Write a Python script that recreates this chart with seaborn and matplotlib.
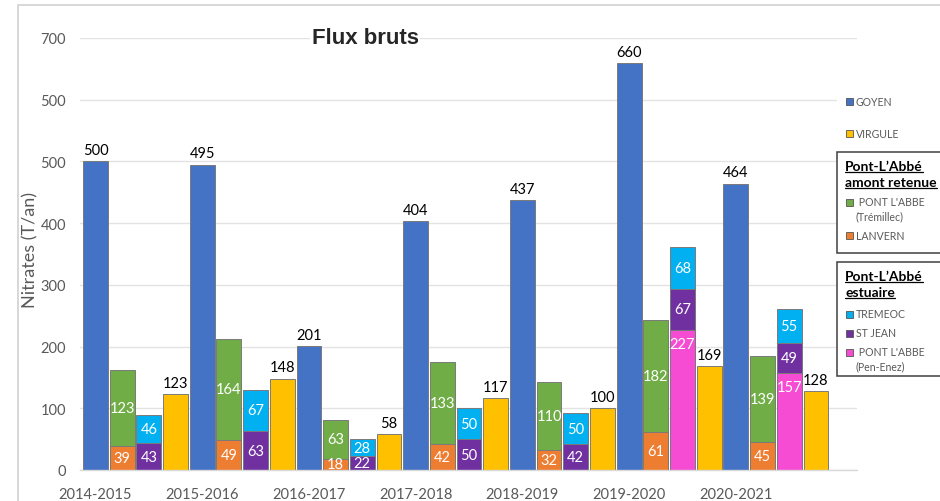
import numpy as np
import pandas as pd
import matplotlib
matplotlib.use("Agg")
import matplotlib.pyplot as plt
from matplotlib.patches import Rectangle
from matplotlib.lines import Line2D
import seaborn as sns

# ---------------- data ----------------
years = ["2014-2015", "2015-2016", "2016-2017", "2017-2018",
         "2018-2019", "2019-2020", "2020-2021"]
goyen = [500, 495, 201, 404, 437, 660, 464]
virgule = [123, 148, 58, 117, 100, 169, 128]
tremillec = [123, 164, 63, 133, 110, 182, 139]
lanvern = [39, 49, 18, 42, 32, 61, 45]
tremeoc = [46, 67, 28, 50, 50, 68, 55]
st_jean = [43, 63, 22, 50, 42, 67, 49]
pen_enez = [np.nan, np.nan, np.nan, np.nan, np.nan, 227, 157]
y_ticks = [0, 100, 200, 300, 400, 500, 600, 700]
y_tick_labels = ["0", "100", "200", "300", "400", "500", "500", "700"]

C_GOYEN = "#4472C4"
C_VIRG = "#FFC000"
C_GREEN = "#70AD47"
C_ORANGE = "#ED7D31"
C_CYAN = "#00B0F0"
C_PURPLE = "#7030A0"
C_PINK = "#F64CD4"
EDGE = "#7a7a7a"
GREY = "#595959"

sns.set_theme(style="white")
plt.rcParams["font.family"] = ["Lato", "DejaVu Sans"]

W, H = 940, 502
fig = plt.figure(figsize=(W / 100, H / 100), dpi=100)
ax = fig.add_axes([80 / W, 31 / H, 777 / W, 432 / H])

slots = [f"{y}|{p}" for y in years for p in range(4)]


def layer(pos, values, color):
    df = pd.DataFrame({"slot": [f"{y}|{pos}" for y in years], "value": values}).dropna()
    sns.barplot(data=df, x="slot", y="value", order=slots, color=color,
                saturation=1, width=0.93, edgecolor=EDGE, linewidth=0.7,
                errorbar=None, ax=ax)


pink0 = np.nan_to_num(np.array(pen_enez, dtype=float))
green_total = np.array(tremillec) + np.array(lanvern)
est_total = np.array(tremeoc) + np.array(st_jean) + pink0
purple_top = np.array(st_jean) + pink0

layer(0, goyen, C_GOYEN)
layer(1, green_total, C_GREEN)
layer(1, lanvern, C_ORANGE)
layer(2, est_total, C_CYAN)
layer(2, purple_top, C_PURPLE)
layer(2, pen_enez, C_PINK)
layer(3, virgule, C_VIRG)

# ---------------- value labels ----------------
lab_fs = 10.5
for g in range(len(years)):
    xg = 4 * g
    ax.annotate(f"{goyen[g]}", (xg, goyen[g]), xytext=(0, 3), textcoords="offset points",
                ha="center", va="bottom", fontsize=lab_fs, color="black")
    ax.annotate(f"{virgule[g]}", (xg + 3, virgule[g]), xytext=(0, 3), textcoords="offset points",
                ha="center", va="bottom", fontsize=lab_fs, color="black")
    # green stack
    ax.text(xg + 1, lanvern[g] / 2, f"{lanvern[g]}", ha="center", va="center",
            fontsize=lab_fs, color="white")
    ax.text(xg + 1, lanvern[g] + tremillec[g] / 2, f"{tremillec[g]}", ha="center",
            va="center", fontsize=lab_fs, color="white")
    # estuary stack
    base = pink0[g]
    if not np.isnan(pen_enez[g]):
        ax.annotate(f"{int(pen_enez[g])}", (xg + 2, pen_enez[g]), xytext=(0, -10),
                    textcoords="offset points", ha="center", va="center",
                    fontsize=lab_fs, color="white")
    ax.text(xg + 2, base + st_jean[g] / 2, f"{st_jean[g]}", ha="center", va="center",
            fontsize=lab_fs, color="white")
    ax.text(xg + 2, base + st_jean[g] + tremeoc[g] / 2, f"{tremeoc[g]}", ha="center",
            va="center", fontsize=lab_fs, color="white")

# ---------------- axes styling ----------------
ax.set_ylim(0, 700)
ax.set_xlim(-0.58, 28.54)
ax.set_yticks(y_ticks)
ax.set_yticklabels(y_tick_labels)
ax.set_xticks([4 * g for g in range(len(years))])
ax.set_xticklabels(years)
ax.tick_params(axis="both", length=0, labelsize=10.5, labelcolor=GREY)
ax.tick_params(axis="y", pad=10)
ax.tick_params(axis="x", pad=12)
ax.set_axisbelow(True)
ax.yaxis.grid(True, color="#e3e3e3", linewidth=1)
ax.xaxis.grid(False)
for s in ["left", "right", "top"]:
    ax.spines[s].set_visible(False)
ax.spines["bottom"].set_color("#d9d9d9")
ax.spines["bottom"].set_linewidth(1)
ax.set_xlabel("")
ax.set_ylabel("Nitrates (T/an)", fontsize=13, color=GREY)
ax.yaxis.set_label_coords((38 - 80) / 777, (471 - 250) / 432)


def fx(x):
    return x / W


def fy(y):
    return 1 - y / H


# outer frame (left & top lines)
fig.patches.append(Rectangle((fx(18), -0.1), 1.2, fy(6) + 0.1, transform=fig.transFigure,
                             fill=False, edgecolor="#d4d4d4", linewidth=1.3, zorder=5))

# title
fig.text(fx(365), fy(38), "Flux bruts", ha="center", va="center", fontsize=16,
         fontweight="bold", family=["Liberation Sans Narrow", "Liberation Sans", "DejaVu Sans"],
         bbox=dict(facecolor="white", edgecolor="none", pad=1), zorder=6)

# ---------------- legend (manual) ----------------
fig.patches.append(Rectangle((fx(837), fy(382)), fx(110), fy(85) - fy(382),
                             transform=fig.transFigure, facecolor="white",
                             edgecolor="none", zorder=4))
for top, bot in [(153, 254), (263, 377)]:
    fig.patches.append(Rectangle((fx(837), fy(bot)), fx(120), fy(top) - fy(bot),
                                 transform=fig.transFigure, facecolor="white",
                                 edgecolor="#404040", linewidth=1.1, zorder=5))


def entry(y, color, text, sub=None, tx=856):
    fig.patches.append(Rectangle((fx(846), fy(y + 3.5)), fx(7), fy(y - 3.5) - fy(y + 3.5),
                                 transform=fig.transFigure, facecolor=color,
                                 edgecolor="#555555", linewidth=0.6, zorder=6))
    fig.text(fx(tx), fy(y), text, ha="left", va="center", fontsize=7.6, color=GREY, zorder=7)
    if sub:
        fig.text(fx(856), fy(y + 14), sub, ha="left", va="center", fontsize=7.6,
                 color=GREY, zorder=7)


titles = []


def title(y, text):
    t = fig.text(fx(845), fy(y), text, ha="left", va="center", fontsize=10,
                 fontweight="bold", color="black", zorder=7)
    titles.append(t)


entry(102, C_GOYEN, "GOYEN")
entry(134, C_VIRG, "VIRGULE")
title(167, "Pont-L\u2019Abbé")
title(183, "amont retenue")
entry(203, C_GREEN, " PONT L'ABBE", "(Trémillec)")
entry(236, C_ORANGE, "LANVERN")
title(277, "Pont-L\u2019Abbé")
title(293, "estuaire")
entry(315, C_CYAN, "TREMEOC")
entry(334, C_PURPLE, "ST JEAN")
entry(353, C_PINK, " PONT L'ABBE", "(Pen-Enez)")

# underline legend titles
fig.canvas.draw()
r = fig.canvas.get_renderer()
for t in titles:
    bb = t.get_window_extent(renderer=r)
    yline = bb.y0 + 0.5
    fig.lines.append(Line2D([bb.x0 / W, bb.x1 / W], [yline / H, yline / H],
                            transform=fig.transFigure, color="black", linewidth=0.9,
                            zorder=7))

fig.savefig("out.png", dpi=100)
